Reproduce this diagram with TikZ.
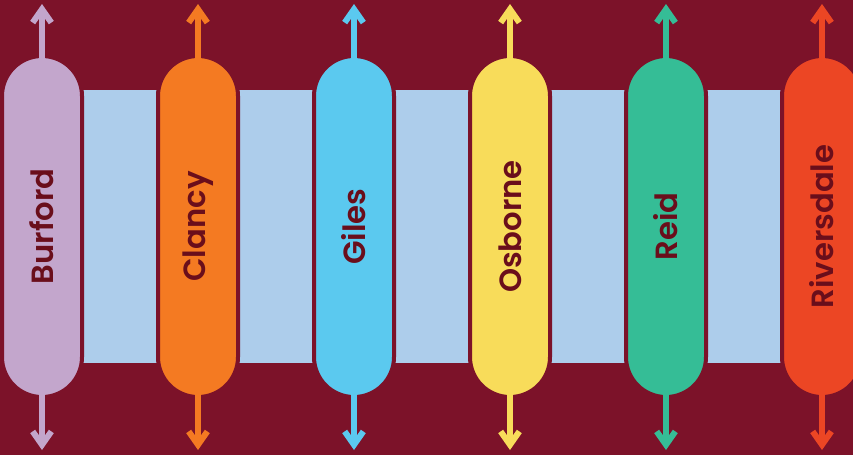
\documentclass[tikz,border=0pt]{standalone}
\usepackage{fontspec}
\setmainfont{Poppins}[BoldFont={Poppins SemiBold}]
\usetikzlibrary{arrows.meta}
\definecolor{bgmaroon}{HTML}{7C1229}
\definecolor{labelred}{HTML}{6A0E1B}
\definecolor{gapblue}{HTML}{ADCDEB}
\definecolor{burfordc}{HTML}{C3A6CC}
\definecolor{clancyc}{HTML}{F47A22}
\definecolor{gilesc}{HTML}{5BC9EF}
\definecolor{osbornec}{HTML}{F8DC5A}
\definecolor{reidc}{HTML}{35BD96}
\definecolor{riversdalec}{HTML}{EC4624}
\begin{document}
\begin{tikzpicture}[x=0.75pt,y=0.75pt,yscale=-1,xscale=1,
    pill/.style={draw=bgmaroon, line width=3pt, rotate=90, minimum width=255.75pt, minimum height=60pt, rounded corners=30pt, inner sep=0pt, font=\fontsize{23}{26}\selectfont\bfseries, text=labelred},
    flow/.style={line width=4.5pt, shorten <=-4pt, -{Straight Barb[length=10pt, width=14pt]}}
    ]
        % Background
        \fill [bgmaroon] (0,0) rectangle (853,455);
        \useasboundingbox (0,0) rectangle (853,455);
        % Gap Rectangles
        \fill [gapblue] (80,90) rectangle (160,363);
        \fill [gapblue] (236,90) rectangle (316,363);
        \fill [gapblue] (392,90) rectangle (472,363);
        \fill [gapblue] (548,90) rectangle (628,363);
        \fill [gapblue] (704,90) rectangle (784,363);
        % Pill Nodes
        \node [pill, fill=burfordc] (burford) at (42,226.5) {Burford};
        \node [pill, fill=clancyc] (clancy) at (198,226.5) {Clancy};
        \node [pill, fill=gilesc] (giles) at (354,226.5) {Giles};
        \node [pill, fill=osbornec] (osborne) at (510,226.5) {Osborne};
        \node [pill, fill=reidc] (reid) at (666,226.5) {Reid};
        \node [pill, fill=riversdalec] (riversdale) at (822,226.5) {Riversdale};
        % Arrow Ends
        \coordinate (burford up) at (42,4);
        \coordinate (burford down) at (42,450);
        \coordinate (clancy up) at (198,4);
        \coordinate (clancy down) at (198,450);
        \coordinate (giles up) at (354,4);
        \coordinate (giles down) at (354,450);
        \coordinate (osborne up) at (510,4);
        \coordinate (osborne down) at (510,450);
        \coordinate (reid up) at (666,4);
        \coordinate (reid down) at (666,450);
        \coordinate (riversdale up) at (822,4);
        \coordinate (riversdale down) at (822,450);
        % Connection
        \draw [flow, burfordc] (burford.east) -- (burford up);
        \draw [flow, burfordc] (burford.west) -- (burford down);
        % Connection
        \draw [flow, clancyc] (clancy.east) -- (clancy up);
        \draw [flow, clancyc] (clancy.west) -- (clancy down);
        % Connection
        \draw [flow, gilesc] (giles.east) -- (giles up);
        \draw [flow, gilesc] (giles.west) -- (giles down);
        % Connection
        \draw [flow, osbornec] (osborne.east) -- (osborne up);
        \draw [flow, osbornec] (osborne.west) -- (osborne down);
        % Connection
        \draw [flow, reidc] (reid.east) -- (reid up);
        \draw [flow, reidc] (reid.west) -- (reid down);
        % Connection
        \draw [flow, riversdalec] (riversdale.east) -- (riversdale up);
        \draw [flow, riversdalec] (riversdale.west) -- (riversdale down);
    \end{tikzpicture}
\end{document}
